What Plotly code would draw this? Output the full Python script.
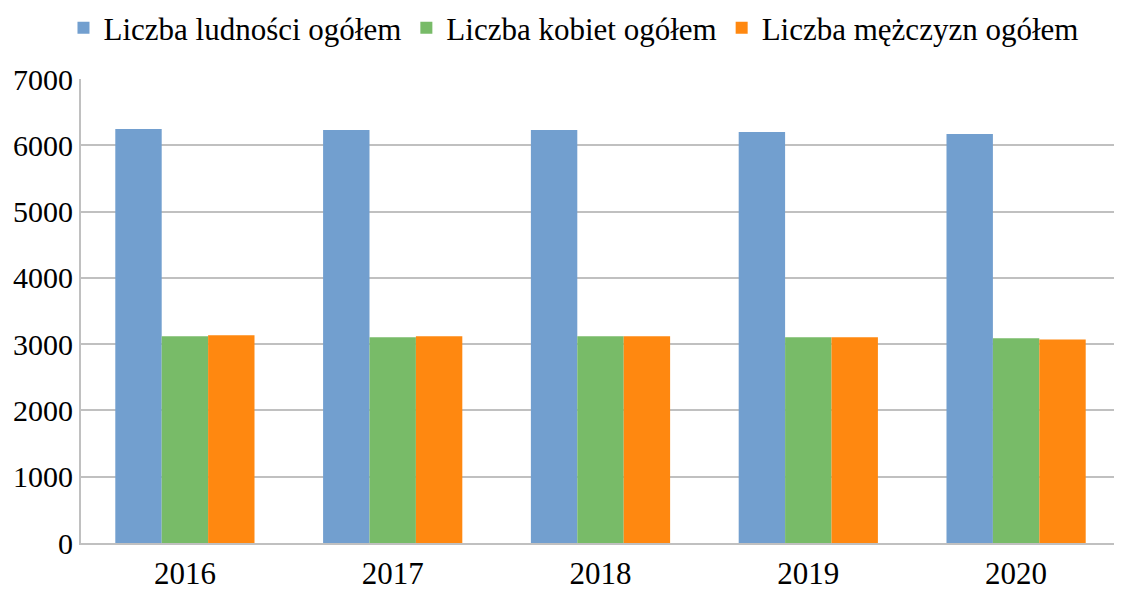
import plotly.graph_objects as go

years = ["2016", "2017", "2018", "2019", "2020"]
ludnosc = [6244, 6229, 6229, 6199, 6169]
kobiety = [3120, 3105, 3120, 3105, 3090]
mezczyzni = [3136, 3120, 3120, 3105, 3070]

series_names = ["Liczba ludności ogółem", "Liczba kobiet ogółem", "Liczba mężczyzn ogółem"]
colors = ["#729fcf", "#78bb68", "#ff8810"]

fig = go.Figure()
for name, vals, c in zip(series_names, [ludnosc, kobiety, mezczyzni], colors):
    fig.add_trace(go.Bar(x=years, y=vals, name=name, marker_color=c, marker_line_width=0))

font = "Liberation Serif"
fig.update_layout(
    width=1114, height=586,
    margin=dict(l=73, r=2, t=71, b=51, autoexpand=False),
    paper_bgcolor="white", plot_bgcolor="white",
    barmode="group", bargap=0.33, bargroupgap=0,
    font=dict(family=font, size=30, color="black"),
    legend=dict(orientation="h", x=0.474, xanchor="center", y=1.168, yanchor="top",
                font=dict(family=font, size=31, color="black"), itemwidth=30, traceorder="normal"),
    xaxis=dict(showline=True, linecolor="#c0c0c0", linewidth=2, ticks="", showgrid=False,
               tickfont=dict(family=font, size=31, color="black"), ticklabelstandoff=2),
    yaxis=dict(range=[0, 7000], dtick=1000, showgrid=True, gridcolor="#c0c0c0", gridwidth=1.5,
               showline=True, linecolor="#c0c0c0", linewidth=2, ticks="", zeroline=False,
               tickfont=dict(family=font, size=30, color="black")),
)
fig.write_html("out.html")
